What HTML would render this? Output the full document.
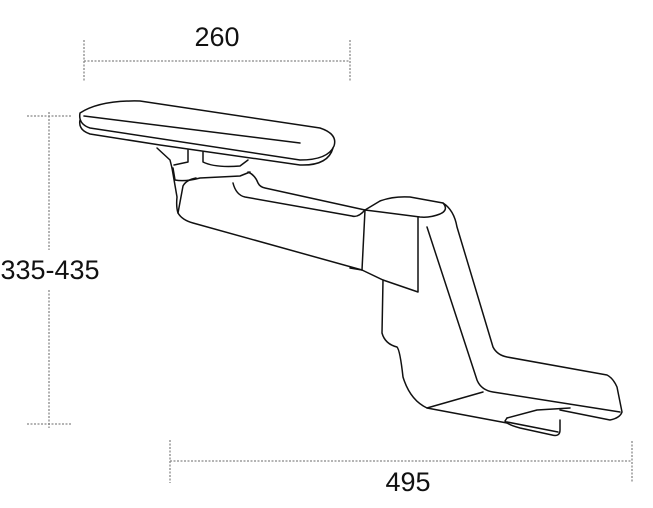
<!DOCTYPE html>
<html><head><meta charset="utf-8"><style>
html,body{margin:0;padding:0;background:#fff;width:653px;height:508px;overflow:hidden}
svg{display:block}
text{font-family:"Liberation Sans",sans-serif;font-size:27px;fill:#111}
</style></head><body>
<svg width="653" height="508" viewBox="0 0 653 508" xmlns="http://www.w3.org/2000/svg">
<g stroke="#888" stroke-width="1.3" stroke-dasharray="2,1.5" fill="none">
<line x1="84" y1="61" x2="350" y2="61"/>
<line x1="84" y1="40" x2="84" y2="82"/>
<line x1="350" y1="40" x2="350" y2="82"/>
<line x1="170" y1="461" x2="632" y2="461"/>
<line x1="170" y1="440" x2="170" y2="483"/>
<line x1="632" y1="441" x2="632" y2="483"/>
<line x1="49" y1="112" x2="49" y2="250"/>
<line x1="49" y1="290" x2="49" y2="428"/>
<line x1="27" y1="116" x2="71" y2="116"/>
<line x1="27" y1="424" x2="71" y2="424"/>
</g>
<text x="217" y="46" text-anchor="middle">260</text>
<text x="408" y="491" text-anchor="middle">495</text>
<text x="50" y="279" text-anchor="middle">335-435</text>
<g stroke="#111" stroke-width="1.5" fill="none" stroke-linejoin="round" stroke-linecap="round">
<path d="M80,113 Q100,100 140,101 L320,128 Q338,134 334,146 Q328,160 300,160 L90,128 Q78,124 80,113 Z"/>
<path d="M84,116 L300,143"/>
<path d="M80,120 Q78,130 90,134 L160,145 L300,165 Q328,166 333,148"/>
<path d="M157,148 L170,160 L172,168"/>
<path d="M188,150 L188,162 L174,165"/>
<path d="M203,152 L203,162 Q215,168 240,166 L248,160"/>
<path d="M173,168 L175,180 Q185,182 200,178 L240,176 L250,172"/>
<path d="M172,168 L177,197 Q176,207 178,213 Q182,220 193,223 L362,270"/>
<path d="M178,213 L183,186 Q186,180 196,178"/>
<path d="M248,172 Q255,175 258,183 Q260,187 265,188 L365,210"/>
<path d="M233,183 Q236,195 245,197 L352,216 Q358,218 365,210"/>
<path d="M365,210 L380,201 Q393,196 410,197 L443,203 Q449,210 440,214 Q430,218 420,217 L365,210"/>
<path d="M365,210 L362,270 L383,280 L418,292 L418,217"/>
<path d="M350,268 L362,270"/>
<path d="M383,280 L382,333 Q385,344 397,347 Q400,350 403,377 Q410,400 427,408 L507,423"/>
<path d="M443,203 Q454,210 457,227 L493,347 Q497,355 507,357 L607,375 Q613,378 617,387 L622,412 Q620,418 610,420 L560,410"/>
<path d="M427,227 L477,380 Q481,390 493,392 L620,412"/>
<path d="M427,408 L483,392"/>
<path d="M507,418 L505,421 Q508,425 520,428 L552,435 Q560,437 560,430 L560,420"/>
<path d="M507,418 L537,410 L570,408"/>
<path d="M507,422 L558,432"/>
</g>
</svg>
</body></html>
